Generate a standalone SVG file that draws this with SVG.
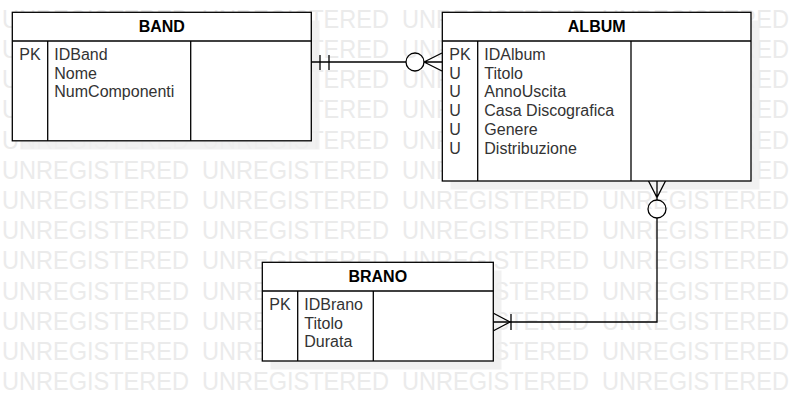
<svg xmlns="http://www.w3.org/2000/svg" width="800" height="411" viewBox="0 0 800 411">
<style>
.wm{font-family:"Liberation Sans",Arial,sans-serif;font-size:25px;fill:#ebebeb}
.shadow{fill:#efefef;fill-opacity:0.85}
.box{fill:#fff;stroke:#000;stroke-width:1.3}
.ln{stroke:#000;stroke-width:1.3;fill:none}
.hd{font-family:"Liberation Sans",Arial,sans-serif;font-size:16px;font-weight:bold;fill:#000;text-anchor:middle}
.tx{font-family:"Liberation Sans",Arial,sans-serif;font-size:16px;fill:#333}
.conn{stroke:#000;stroke-width:1.3;fill:none}
</style>
<rect width="800" height="411" fill="#fff"/>
<g id="watermark">
<g id="wmrow">
<text class="wm" x="2" y="27.8" textLength="187" lengthAdjust="spacingAndGlyphs">UNREGISTERED</text>
<text class="wm" x="202" y="27.8" textLength="187" lengthAdjust="spacingAndGlyphs">UNREGISTERED</text>
<text class="wm" x="402" y="27.8" textLength="187" lengthAdjust="spacingAndGlyphs">UNREGISTERED</text>
<text class="wm" x="602" y="27.8" textLength="187" lengthAdjust="spacingAndGlyphs">UNREGISTERED</text>
</g>
<use href="#wmrow" y="30.2"/>
<use href="#wmrow" y="60.4"/>
<use href="#wmrow" y="90.6"/>
<use href="#wmrow" y="120.8"/>
<use href="#wmrow" y="151"/>
<use href="#wmrow" y="181.2"/>
<use href="#wmrow" y="211.4"/>
<use href="#wmrow" y="241.6"/>
<use href="#wmrow" y="271.8"/>
<use href="#wmrow" y="302"/>
<use href="#wmrow" y="332.2"/>
<use href="#wmrow" y="362.4"/>
</g>
<g id="shadows">
<rect class="shadow" x="20.5" y="20.5" width="299" height="129"/>
<rect class="shadow" x="450.5" y="20.5" width="309" height="169"/>
<rect class="shadow" x="270.5" y="270.5" width="231" height="99"/>
</g>
<g id="connectors">
<line class="conn" x1="311" y1="62" x2="406" y2="62"/>
<line class="conn" x1="320" y1="55" x2="320" y2="70"/>
<line class="conn" x1="329" y1="55" x2="329" y2="70"/>
<circle class="conn" cx="415" cy="62" r="9" fill="#fff"/>
<path class="conn" d="M424 62 L442 53 M424 62 L442 62 M424 62 L442 71"/>
<path class="conn" d="M657 181 L657 200 M648.5 181 L657 197.5 L665.5 181"/>
<circle class="conn" cx="657" cy="209" r="9"/>
<path class="conn" d="M657 218 L657 322 L493 322"/>
<path class="conn" d="M493 313 L510 322 L493 331"/>
<line class="conn" x1="511" y1="314" x2="511" y2="330"/>
</g>
<g id="BAND">
<rect class="box" x="12.3" y="12.3" width="299" height="128.5"/>
<line class="ln" x1="12.3" y1="41" x2="311.3" y2="41"/>
<line class="ln" x1="47.7" y1="41" x2="47.7" y2="140.8"/>
<line class="ln" x1="190.7" y1="41" x2="190.7" y2="140.8"/>
<text class="hd" x="161.8" y="31.5">BAND</text>
<text class="tx" x="19.3" y="60">PK</text>
<text class="tx" x="54.3" y="60">IDBand</text>
<text class="tx" x="54.3" y="78.7">Nome</text>
<text class="tx" x="54.3" y="97.4">NumComponenti</text>
</g>
<g id="ALBUM">
<rect class="box" x="442.3" y="12.3" width="308.7" height="168.7"/>
<line class="ln" x1="442.3" y1="41" x2="751" y2="41"/>
<line class="ln" x1="477.7" y1="41" x2="477.7" y2="181"/>
<line class="ln" x1="631" y1="41" x2="631" y2="181"/>
<text class="hd" x="596.7" y="31.5">ALBUM</text>
<text class="tx" x="449.3" y="60">PK</text>
<text class="tx" x="449.3" y="78.7">U</text>
<text class="tx" x="449.3" y="97.4">U</text>
<text class="tx" x="449.3" y="116.1">U</text>
<text class="tx" x="449.3" y="134.8">U</text>
<text class="tx" x="449.3" y="153.5">U</text>
<text class="tx" x="484.3" y="60">IDAlbum</text>
<text class="tx" x="484.3" y="78.7">Titolo</text>
<text class="tx" x="484.3" y="97.4">AnnoUscita</text>
<text class="tx" x="484.3" y="116.1">Casa Discografica</text>
<text class="tx" x="484.3" y="134.8">Genere</text>
<text class="tx" x="484.3" y="153.5">Distribuzione</text>
</g>
<g id="BRANO">
<rect class="box" x="262.3" y="262.3" width="231" height="98.7"/>
<line class="ln" x1="262.3" y1="291" x2="493.3" y2="291"/>
<line class="ln" x1="297.7" y1="291" x2="297.7" y2="361"/>
<line class="ln" x1="373.3" y1="291" x2="373.3" y2="361"/>
<text class="hd" x="377.8" y="281.5">BRANO</text>
<text class="tx" x="269.3" y="310">PK</text>
<text class="tx" x="304.3" y="310">IDBrano</text>
<text class="tx" x="304.3" y="328.7">Titolo</text>
<text class="tx" x="304.3" y="347.4">Durata</text>
</g>
</svg>
